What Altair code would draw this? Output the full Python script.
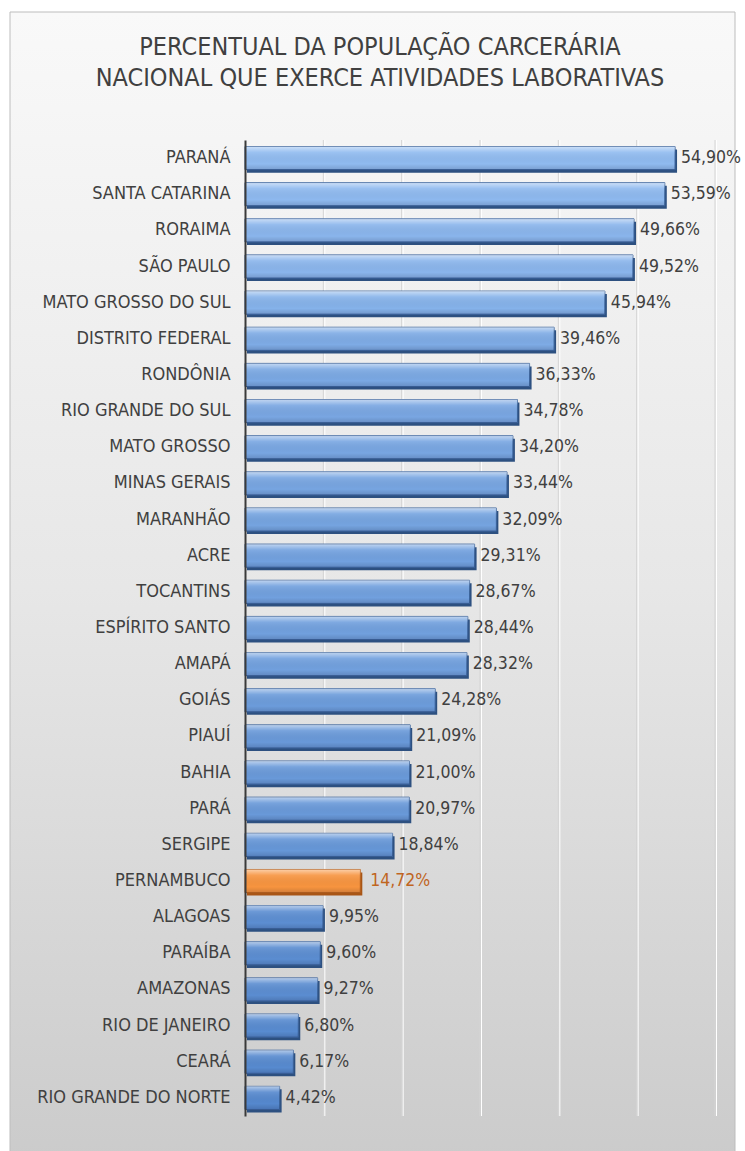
import altair as alt
import pandas as pd

states = ["PARANÁ", "SANTA CATARINA", "RORAIMA", "SÃO PAULO", "MATO GROSSO DO SUL",
          "DISTRITO FEDERAL", "RONDÔNIA", "RIO GRANDE DO SUL", "MATO GROSSO", "MINAS GERAIS",
          "MARANHÃO", "ACRE", "TOCANTINS", "ESPÍRITO SANTO", "AMAPÁ", "GOIÁS", "PIAUÍ",
          "BAHIA", "PARÁ", "SERGIPE", "PERNAMBUCO", "ALAGOAS", "PARAÍBA", "AMAZONAS",
          "RIO DE JANEIRO", "CEARÁ", "RIO GRANDE DO NORTE"]
values = [54.90, 53.59, 49.66, 49.52, 45.94, 39.46, 36.33, 34.78, 34.20, 33.44, 32.09,
          29.31, 28.67, 28.44, 28.32, 24.28, 21.09, 21.00, 20.97, 18.84, 14.72, 9.95,
          9.60, 9.27, 6.80, 6.17, 4.42]
highlight = "PERNAMBUCO"
grid_ticks = [10, 20, 30, 40, 50, 60]
title_lines = ["PERCENTUAL DA POPULAÇÃO CARCERÁRIA", "NACIONAL QUE EXERCE ATIVIDADES LABORATIVAS"]

FONT = "Liberation Sans Narrow, DejaVu Sans Condensed, Open Sans"

df = pd.DataFrame({"estado": states, "valor": values})
df["rotulo"] = [f"{v:.2f}".replace(".", ",") + "%" for v in values]
df["destaque"] = df["estado"] == highlight

W, H = 470, 976

xs = alt.Scale(domain=[0, 60], nice=False, zero=True)
ys = alt.Scale(paddingInner=0.36, paddingOuter=0.18)

x_enc = alt.X("valor:Q", scale=xs, axis=None)
y_enc = alt.Y("estado:N", sort=states, scale=ys,
              axis=alt.Axis(title=None, ticks=False, labelPadding=15, labelFontSize=18,
                            labelLimit=300, labelFont=FONT, labelColor="#404040",
                            domainColor="#3a3a3a", domainWidth=2, zindex=1, grid=False))

bg = alt.Chart(pd.DataFrame({"a": [0]})).mark_rect(
    fill=alt.Gradient(gradient="linear", x1=0, y1=0, x2=0, y2=1,
                      stops=[alt.GradientStop(offset=0, color="#f9f9f9"),
                             alt.GradientStop(offset=0.5, color="#e7e7e7"),
                             alt.GradientStop(offset=1, color="#cbcbcb")]),
    stroke="#bdbdbd", strokeWidth=1
).encode(x=alt.value(-235), x2=alt.value(490), y=alt.value(-128), y2=alt.value(1024))

gdf = pd.DataFrame({"t": grid_ticks})
grid1 = alt.Chart(gdf).mark_rule(color="#d4d4d4", strokeWidth=1).encode(
    x=alt.X("t:Q", scale=xs, axis=None))
grid2 = alt.Chart(gdf).mark_rule(color="#ffffff", strokeWidth=1, xOffset=1.5).encode(
    x=alt.X("t:Q", scale=xs, axis=None))

base = alt.Chart(df)

blue = base.transform_filter("!datum.destaque")
orange = base.transform_filter("datum.destaque")

shadow_b = blue.mark_bar(color="#2d5080", yOffset=3, xOffset=2).encode(x=x_enc, y=y_enc)
main_b = blue.mark_bar(stroke="#3b639b", strokeWidth=1).encode(
    x=x_enc, y=y_enc,
    color=alt.Color("valor:Q", scale=alt.Scale(domain=[0, 60], range=["#5084cb", "#96c0f3"]),
                    legend=None))
shine = alt.Gradient(gradient="linear", x1=0, y1=0, x2=0, y2=1,
                     stops=[alt.GradientStop(offset=0, color="rgba(255,255,255,0.55)"),
                            alt.GradientStop(offset=0.25, color="rgba(255,255,255,0.10)"),
                            alt.GradientStop(offset=0.75, color="rgba(0,0,0,0)"),
                            alt.GradientStop(offset=1, color="rgba(0,0,40,0.15)")])
gloss_b = blue.mark_bar(fill=shine).encode(x=x_enc, y=y_enc)

shadow_o = orange.mark_bar(color="#a85516", yOffset=3, xOffset=2).encode(x=x_enc, y=y_enc)
main_o = orange.mark_bar(color="#f7943f", stroke="#b8621e", strokeWidth=1).encode(x=x_enc, y=y_enc)
gloss_o = orange.mark_bar(fill=shine).encode(x=x_enc, y=y_enc)

lab_b = blue.mark_text(align="left", baseline="middle", dx=6, fontSize=17.5, font=FONT,
                       color="#404040").encode(x=x_enc, y=y_enc, text="rotulo:N")
lab_o = orange.mark_text(align="left", baseline="middle", dx=10, fontSize=17.5, font=FONT,
                         color="#c0651f").encode(x=x_enc, y=y_enc, text="rotulo:N")

chart = alt.layer(bg, grid1, grid2, shadow_b, main_b, gloss_b, shadow_o, main_o, gloss_o,
                  lab_b, lab_o).properties(
    width=W, height=H,
    autosize=alt.AutoSizeParams(type="none"),
    padding={"left": 245, "top": 140, "right": 30, "bottom": 35},
    title=alt.TitleParams(text=title_lines, font=FONT, fontSize=25, fontWeight="normal",
                          color="#404040", anchor="middle", frame="group", dx=-100,
                          offset=-79, lineHeight=31),
    background="white",
).configure_view(stroke=None)

chart.save("out.html", embed_options={"renderer": "svg", "actions": False})
